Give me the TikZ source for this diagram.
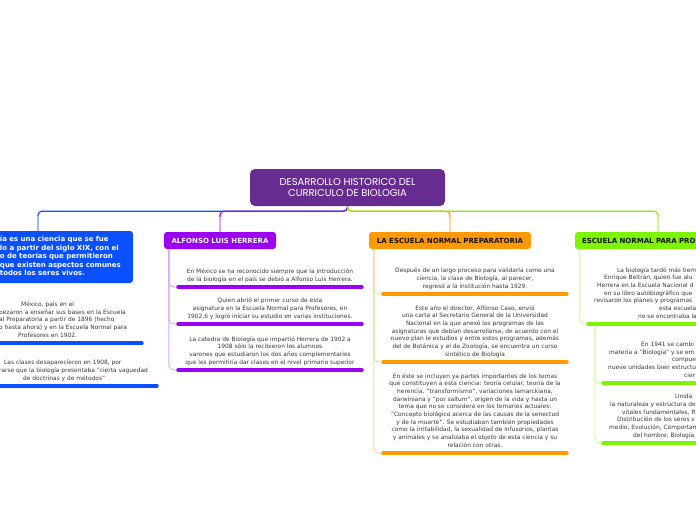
\documentclass[tikz,border=0pt]{standalone}
\usepackage{fontspec}
\setmainfont{DejaVu Sans}
\newfontfamily\titlefont{Poppins}
\definecolor{mainc}{HTML}{672C91}
\definecolor{bluec}{HTML}{0A50FF}
\definecolor{purc}{HTML}{9C00F2}
\definecolor{orac}{HTML}{FF9900}
\definecolor{grnc}{HTML}{7DF500}
\definecolor{bluel}{HTML}{9DB8FF}
\definecolor{purl}{HTML}{D9A6FF}
\definecolor{oral}{HTML}{FFD699}
\definecolor{grnl}{HTML}{C6FF8F}
\definecolor{txt}{HTML}{3A3A3A}
\definecolor{txtdark}{HTML}{111111}
\tikzset{
  trunk/.style={line width=1.1pt, rounded corners=4pt},
  conn/.style={line width=0.9pt, rounded corners=5pt},
  ul/.style={line width=3.4pt, line cap=round},
  item/.style={anchor=south, align=center, inner xsep=0pt, inner ysep=5.5pt, text depth=0pt, text=txt, font=\fontsize{5.9}{7.7}\selectfont},
  itemL/.style={item, anchor=south west, align=left},
  topicbox/.style={rounded corners=3pt, minimum height=17pt, inner ysep=0pt, font=\bfseries\fontsize{7}{8}\selectfont},
}
\begin{document}
\begin{tikzpicture}[x=1pt,y=-1pt]
\useasboundingbox (0,0) rectangle (696,520);
\clip (0,0) rectangle (696,520);
\fill[white] (0,0) rectangle (696,520);

% central topic
\node[fill=mainc, rounded corners=5pt, minimum width=195pt, minimum height=37pt, text=white, align=center, font=\titlefont\fontsize{10}{10}\selectfont] (m) at (347.5,187.5) {DESARROLLO HISTORICO DEL\\CURRICULO DE BIOLOGIA};

% main topics
\node[topicbox, fill=bluec, text=white, minimum height=52pt, text width=176pt, inner xsep=7pt, align=left, font=\bfseries\fontsize{7}{8.5}\selectfont] (tblu) at (38,257) {\hspace*{50pt}\begin{tabular}{@{}l@{}}ía es una ciencia que se fue\\lo a partir del siglo XIX, con el\\o de teorías que permitieron\\que existen aspectos comunes\\todos los seres vivos.\end{tabular}};
\node[topicbox, fill=purc, text=white, minimum width=112pt] (tpur) at (220,240.5) {ALFONSO LUIS HERRERA};
\node[topicbox, fill=orac, text=txtdark, minimum width=162pt] (tora) at (450,240.5) {LA ESCUELA NORMAL PREPARATORIA};
\node[topicbox, fill=grnc, text=txtdark, text width=152pt, inner xsep=7pt, align=left] (tgrn) at (658,240.5) {ESCUELA NORMAL PARA PRO};

% trunk connectors
\draw[trunk, bluec] (m.south) -- ++(0,5) -| (tblu.north);
\draw[trunk, purc] (m.south) -- ++(0,5) -| (tpur.north);
\draw[trunk, orac] (m.south) -- ++(0,5) -| (tora.north);
\draw[trunk, grnc] (m.south) -- ++(0,5) -| (tgrn.north);
\draw[line width=1.1pt, bluel] (tblu.north) -- ++(0,-15);
\draw[line width=1.1pt, purl] (tpur.north) -- ++(0,-15);
\draw[line width=1.1pt, oral] (tora.north) -- ++(0,-15);
\draw[line width=1.1pt, grnl] (tgrn.north) -- ++(0,-15);

% blue sub-items
\node[itemL] (b1) at (-44,343) {\hspace*{65pt}México, país en el\\\hspace*{43pt}pezaron a enseñar sus bases en la Escuela\\\hspace*{43pt}al Preparatoria a partir de 1896 (hecho\\\hspace*{43pt}o hasta ahora) y en la Escuela Normal para\\\hspace*{62pt}Profesores en 1902.};
\node[itemL] (b2) at (-29,386) {\hspace*{33pt}Las clases desaparecieron en 1908, por\\\hspace*{28pt}rarse que la biología presentaba "cierta vaguedad\\\hspace*{52pt}de doctrinas y de métodos"};
\draw[conn, bluel] ([xshift=5pt]tblu.south west) |- (b1.south west);
\draw[conn, bluel] ([xshift=5pt]tblu.south west) |- (b2.south west);
\draw[ul, bluec] (b1.south west) -- ++(186,0);
\draw[ul, bluec] (b2.south west) -- ++(186,0);

% purple sub-items
\node[item] (p1) at (270,287) {En México se ha reconocido siempre que la introducción\\de la biología en el país se debió a Alfonso Luis Herrera.};
\node[item] (p2) at (270,324) {Quien abrió el primer curso de esta\\asignatura en la Escuela Normal para Profesores, en\\1902,6 y logró iniciar su estudio en varias instituciones.};
\node[item] (p3) at (270,370) {La catedra de Biología que impartió Herrera de 1902 a\\1908 sólo la recibieron los alumnos\\varones que estudiaron los dos años complementarios\\que les permitiría dar clases en el nivel primario superior};
\foreach \n in {p1,p2,p3}{
  \draw[conn, purl] ([xshift=5pt]tpur.south west) |- ([xshift=-92pt]\n.south);
  \draw[ul, purc] ([xshift=-92pt]\n.south) -- ([xshift=92pt]\n.south);
}

% orange sub-items
\node[item] (o1) at (475,294) {Después de un largo proceso para validarla como una\\ciencia, la clase de Biología, al parecer,\\regresó a la institución hasta 1929.};
\node[item] (o2) at (475,362) {Este año el director, Alfonso Caso, envió\\una carta al Secretario General de la Universidad\\Nacional en la que anexó los programas de las\\asignaturas que debían desarrollarse, de acuerdo con el\\nuevo plan le estudios y entre estos programas, además\\del de Botánica y el de Zoología, se encuentra un curso\\sintético de Biología};
\node[item] (o3) at (475,453) {En éste se incluyen ya partes importantes de los temas\\que constituyen a esta ciencia: teoría celular, teoría de la\\herencia, "transformismo", variaciones lamarckiana,\\darwiniana y "por saltum", origen de la vida y hasta un\\tema que no se considera en los temarios actuales:\\"Concepto biológico acerca de las causas de la senectud\\y de la muerte". Se estudiaban también propiedades\\como la irritabilidad, la sexualidad de infusorios, plantas\\y animales y se analizaba el objeto de esta ciencia y su\\relación con otras.};
\foreach \n in {o1,o2,o3}{
  \draw[conn, oral] ([xshift=5pt]tora.south west) |- ([xshift=-92pt]\n.south);
  \draw[ul, orac] ([xshift=-92pt]\n.south) -- ([xshift=92pt]\n.south);
}

% green sub-items
\node[itemL] (g1) at (588,324) {\hspace*{29pt}La biología tardó más tiem\\\hspace*{16pt}Enrique Beltrán, quien fue alu\\\hspace*{9pt}Herrera en la Escuela Nacional d\\\hspace*{16pt}en su libro autobiográfico que\\\hspace*{6pt}revisaron los planes y programas\\\hspace*{71pt}esta escuela\\\hspace*{50pt}no se encontraba la};
\node[itemL] (g2) at (603,383) {\hspace*{38pt}En 1941 se cambi\\\hspace*{6pt}materia a "Biología" y se em\\\hspace*{69pt}compue\\\hspace*{5pt}nueve unidades bien estructu\\\hspace*{81pt}cier};
\node[itemL] (g3) at (603,443) {\hspace*{72pt}Unida\\\hspace*{7pt}la naturaleza y estructura de\\\hspace*{19pt}vitales fundamentales, R\\\hspace*{14pt}Distribución de los seres v\\\hspace*{6pt}medio, Evolución, Comportam\\\hspace*{30pt}del hombre, Biología};
\draw[conn, grnl] ([xshift=5pt]tgrn.south west) |- (g1.south west);
\draw[conn, grnl] ([xshift=7pt]g1.south west) |- (g2.south west);
\draw[conn, grnl] ([xshift=7pt]g1.south west) |- (g3.south west);
\draw[ul, grnc] (g1.south west) -- ++(120,0);
\draw[ul, grnc] (g2.south west) -- ++(120,0);
\draw[ul, grnc] (g3.south west) -- ++(120,0);
\end{tikzpicture}
\end{document}
